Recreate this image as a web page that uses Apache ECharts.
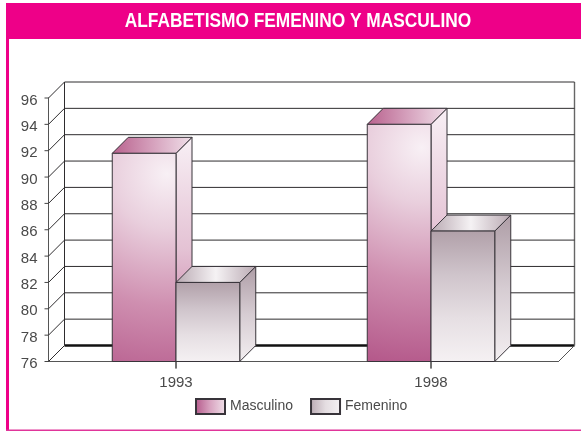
<!DOCTYPE html>
<html><head><meta charset="utf-8">
<style>html,body{margin:0;padding:0;background:#fff}#c{width:581px;height:431px}</style>
<script src="https://cdn.jsdelivr.net/npm/echarts@6/dist/echarts.min.js"></script></head>
<body><div id="c"></div>
<script>
const titleText = 'ALFABETISMO FEMENINO Y MASCULINO';
const categories = ['1993', '1998'];
const masculino = [91.8, 94.0];
const femenino = [82.0, 85.9];
const yTicks = [76, 78, 80, 82, 84, 86, 88, 90, 92, 94, 96];
const FONT = '"Liberation Sans",Arial,sans-serif';
const DEPTH = 16, BAR_RATIO = 0.25, EDGE = '#38343a';
const Y_TICK_LEN = 4, X_TICK_LEN = 7;

const lin = (x, y, x2, y2, stops) => ({type: 'linear', x, y, x2, y2,
  colorStops: stops.map((c, i) => ({offset: i / (stops.length - 1), color: c}))});

const skins = {
  Masculino: {
    front: {type: 'radial', x: 0.85, y: 0.1, r: 3.4, colorStops: [
      {offset: 0, color: '#f8f0f5'}, {offset: 0.25, color: '#e9cfdd'},
      {offset: 0.6, color: '#cf8fb0'}, {offset: 1, color: '#b4588a'}]},
    side: lin(0, 0, 0, 1, ['#f8f0f5', '#e4c2d4', '#c16e9a']),
    top: lin(0, 0, 1, 0, ['#b8618d', '#d5a0bc', '#f0e0e9']),
    legend: lin(0, 0, 1, 0, ['#b4588a', '#d9a5c1', '#f0e2ea'])
  },
  Femenino: {
    front: lin(0, 0, 0, 1, ['#b1a0a9', '#cfc4cb', '#e6dfe3', '#f5f1f3']),
    side: lin(0, 0, 0, 1, ['#ae9da6', '#d6ccd2', '#f3eff1']),
    top: lin(0, 0, 1, 0, ['#b9a9b2', '#f5f2f4', '#b9a9b2']),
    legend: lin(0, 0, 1, 0, ['#b9a9b2', '#e4dde1', '#f5f2f4'])
  }
};

const line = (x1, y1, x2, y2, w, c) => ({type: 'line', silent: true,
  shape: {x1, y1, x2, y2}, style: {stroke: c || '#2e2c2e', lineWidth: w || 1}});

function wall(params, api) {
  const v = api.value(0), g = params.coordSys;
  const y = api.coord([0, v])[1], l = g.x, r = g.x + g.width;
  const kids = [
    line(l + DEPTH, y - DEPTH, r + DEPTH, y - DEPTH, v === yTicks[0] ? 2.4 : 1, v === yTicks[0] ? '#111' : null),
    line(l, y, l + DEPTH, y - DEPTH),
    line(l - Y_TICK_LEN, y, l, y, 1, '#444')
  ];
  if (v === yTicks[0]) {
    kids.push(line(r, y, r + DEPTH, y - DEPTH, 1, '#555'));
    const top = api.coord([0, yTicks[yTicks.length - 1]])[1];
    kids.push(line(l + DEPTH, y - DEPTH, l + DEPTH, top - DEPTH));
    kids.push(line(r + DEPTH, y - DEPTH, r + DEPTH, top - DEPTH, 1.4, '#666'));
  }
  return {type: 'group', children: kids};
}

function cuboid(name, side) {
  const s = skins[name];
  return function (params, api) {
    const c = api.value(0), v = api.value(1);
    const w = api.size([1, 0])[0] * BAR_RATIO;
    const cx = api.coord([c, v])[0], t = api.coord([c, v])[1], b = api.coord([c, yTicks[0]])[1];
    const x0 = side < 0 ? cx - w : cx, x1 = x0 + w, d = DEPTH;
    const poly = (points, fill) => ({type: 'polygon', shape: {points},
      style: {fill, stroke: EDGE, lineWidth: 1, lineJoin: 'miter'}});
    return {type: 'group', children: [
      line(cx, b, cx, b + X_TICK_LEN, 1, '#444'),
      poly([[x1, t], [x1 + d, t - d], [x1 + d, b - d], [x1, b]], s.side),
      poly([[x0, t], [x0 + d, t - d], [x1 + d, t - d], [x1, t]], s.top),
      poly([[x0, t], [x1, t], [x1, b], [x0, b]], s.front)
    ]};
  };
}

const chart = echarts.init(document.getElementById('c'), null, {renderer: 'canvas'});
chart.setOption({
  animation: false,
  backgroundColor: '#fff',
  graphic: [
    {type: 'rect', z: -1, shape: {x: 6, y: 3, width: 575, height: 36}, style: {fill: '#ee0088'}},
    {type: 'rect', z: -1, shape: {x: 6, y: 3, width: 3, height: 427}, style: {fill: '#ee0088'}},
    {type: 'rect', z: -1, shape: {x: 6, y: 429.5, width: 575, height: 1.5}, style: {fill: '#e0359a'}},
    {type: 'text', z: 5, x: 298, y: 21.5, scaleX: 0.825, style: {text: titleText, fill: '#fff',
      font: 'bold 21px ' + FONT, textAlign: 'center', textVerticalAlign: 'middle'}}
  ],
  legend: {
    data: ['Masculino', 'Femenino'], left: 190, top: 393, itemWidth: 29, itemHeight: 15, itemGap: 17,
    icon: 'rect', selectedMode: false,
    textStyle: {color: '#4a4a4a', fontFamily: FONT, fontSize: 14}
  },
  grid: {left: 48.5, top: 98, width: 510, height: 263.5, containLabel: false},
  xAxis: {type: 'category', data: categories, boundaryGap: true,
    axisLine: {lineStyle: {color: '#555', width: 1}},
    axisTick: {show: false},
    axisLabel: {color: '#4a4a4a', fontFamily: FONT, fontSize: 15, margin: 14},
    splitLine: {show: false}},
  yAxis: {type: 'value', min: 76, max: 96, interval: 2,
    axisLine: {show: true, lineStyle: {color: '#555', width: 1}},
    axisTick: {show: false},
    axisLabel: {color: '#4a4a4a', fontFamily: FONT, fontSize: 15, margin: 11,
      formatter: '{n|{value}}', rich: {n: {padding: [5, 0, 0, 0]}}},
    splitLine: {show: false}},
  series: [
    {type: 'custom', name: 'wall', z: 1, silent: true, clip: false, renderItem: wall,
      data: yTicks.map(v => [v]), encode: {y: 0}},
    {type: 'custom', name: 'Masculino', z: 3, clip: false, renderItem: cuboid('Masculino', -1),
      itemStyle: {color: skins.Masculino.legend, borderColor: EDGE, borderWidth: 1},
      data: masculino.map((v, i) => [i, v]), encode: {x: 0, y: 1}},
    {type: 'custom', name: 'Femenino', z: 4, clip: false, renderItem: cuboid('Femenino', 1),
      itemStyle: {color: skins.Femenino.legend, borderColor: EDGE, borderWidth: 1},
      data: femenino.map((v, i) => [i, v]), encode: {x: 0, y: 1}}
  ]
});
</script></body></html>
